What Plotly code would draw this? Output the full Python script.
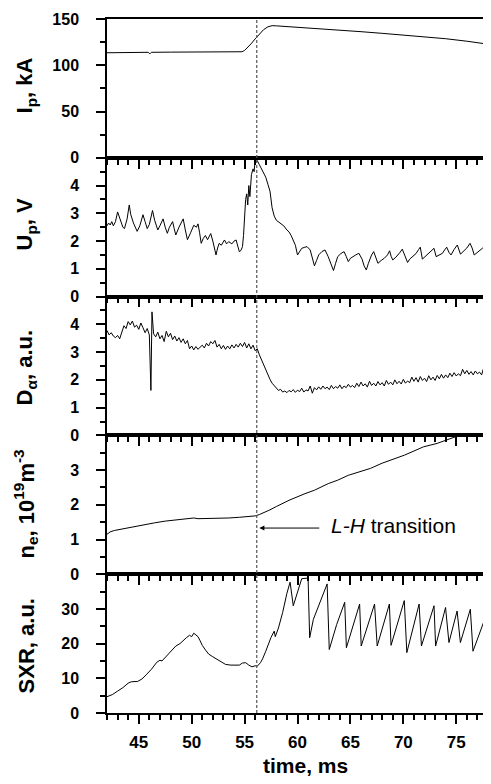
import plotly.graph_objects as go
from plotly.subplots import make_subplots

# ---------------- data ----------------
X_RANGE = [42, 78]
X_TICKS = [45, 50, 55, 60, 65, 70, 75]
LH_TIME = 56.15

IP = [(42.0, 113.5), (44.0, 113.8), (45.9, 114.0), (46.05, 112.3), (46.2, 114.0), (48.0, 114.2),
      (50.0, 114.3), (52.0, 114.4), (54.0, 114.5), (54.75, 114.6), (55.0, 116.0), (55.3, 119.0),
      (55.6, 123.0), (56.0, 128.5), (56.4, 134.0), (56.8, 138.5), (57.2, 141.5), (57.6, 142.8),
      (58.0, 142.6), (60.0, 141.2), (62.0, 139.6), (64.0, 138.0), (66.0, 136.3), (68.0, 134.5),
      (70.0, 132.6), (72.0, 130.8), (74.0, 128.7), (76.0, 126.0), (78.0, 122.8)]

UP = [(42.0, 2.55), (42.15, 2.65), (42.3, 2.58), (42.45, 2.7), (42.6, 2.55), (42.8, 2.7), (43.0, 3.05),
      (43.15, 2.9), (43.3, 2.7), (43.5, 2.5), (43.65, 2.45), (43.9, 2.8), (44.1, 3.3), (44.25, 2.95),
      (44.5, 2.65), (44.65, 2.5), (44.85, 2.35), (45.1, 2.55), (45.4, 2.95), (45.6, 2.7), (45.8, 2.45),
      (46.0, 2.6), (46.3, 3.1), (46.5, 2.75), (46.8, 2.4), (47.0, 2.55), (47.3, 2.8), (47.5, 2.5),
      (47.7, 2.28), (47.9, 2.5), (48.2, 2.7), (48.35, 2.45), (48.5, 2.22), (48.8, 2.5), (49.2, 2.8),
      (49.4, 2.4), (49.6, 2.05), (49.9, 2.3), (50.2, 2.57), (50.45, 2.5), (50.6, 2.62), (50.75, 2.3),
      (50.9, 1.92), (51.1, 2.1), (51.3, 2.2), (51.5, 2.05), (51.8, 2.27), (52.0, 2.0), (52.3, 1.5),
      (52.45, 1.75), (52.6, 1.92), (52.8, 1.85), (53.1, 2.04), (53.3, 1.9), (53.5, 1.98), (53.8, 1.9),
      (54.0, 2.0), (54.2, 2.04), (54.35, 1.8), (54.5, 1.62), (54.65, 1.66), (54.8, 1.8), (54.9, 2.2),
      (55.0, 2.9), (55.1, 3.5), (55.2, 3.7), (55.3, 3.3), (55.4, 4.0), (55.5, 3.6), (55.65, 4.4),
      (55.8, 4.6), (55.9, 4.5), (56.0, 4.95), (56.1, 4.85), (56.2, 4.9), (56.4, 4.75), (56.6, 4.6),
      (56.8, 4.45), (57.0, 4.3), (57.2, 4.05), (57.4, 3.8), (57.6, 3.2), (57.8, 2.9), (58.0, 2.75),
      (58.2, 2.69), (58.5, 2.6), (58.7, 2.55), (59.0, 2.4), (59.2, 2.33), (59.4, 2.2), (59.6, 2.04),
      (59.8, 1.85), (60.0, 1.5), (60.2, 1.65), (60.4, 1.74), (60.7, 1.78), (60.9, 1.8), (61.2, 1.68),
      (61.4, 1.4), (61.6, 1.11), (61.8, 1.3), (62.0, 1.5), (62.3, 1.62), (62.6, 1.68), (62.9, 1.44),
      (63.2, 1.15), (63.4, 0.94), (63.6, 1.2), (63.8, 1.44), (64.1, 1.55), (64.4, 1.62), (64.6, 1.45),
      (64.8, 1.26), (65.0, 1.38), (65.2, 1.44), (65.5, 1.5), (65.8, 1.56), (66.1, 1.35), (66.3, 1.1),
      (66.5, 0.96), (66.7, 1.2), (66.8, 1.32), (67.0, 1.5), (67.2, 1.62), (67.4, 1.4), (67.6, 1.2),
      (67.9, 1.3), (68.2, 1.38), (68.5, 1.5), (68.7, 1.65), (68.85, 1.45), (69.0, 1.32), (69.3, 1.42),
      (69.5, 1.5), (69.7, 1.6), (69.9, 1.71), (70.1, 1.5), (70.4, 1.23), (70.6, 1.35), (70.9, 1.44),
      (71.2, 1.55), (71.45, 1.7), (71.6, 1.78), (71.8, 1.35), (72.0, 1.42), (72.4, 1.56), (72.7, 1.65),
      (72.9, 1.74), (73.1, 1.44), (73.4, 1.5), (73.7, 1.56), (73.9, 1.68), (74.1, 1.78), (74.3, 1.6),
      (74.5, 1.5), (74.8, 1.7), (75.1, 1.86), (75.4, 1.53), (75.7, 1.65), (76.0, 1.75), (76.3, 1.92),
      (76.5, 1.75), (76.7, 1.5), (77.0, 1.6), (77.3, 1.68), (77.5, 1.75), (77.7, 1.78), (77.85, 1.65),
      (78.0, 1.7)]

DALPHA = [(42.0, 3.78), (42.2, 3.62), (42.4, 3.70), (42.6, 3.58), (42.8, 3.52), (43.0, 3.60),
          (43.2, 3.48), (43.4, 3.75), (43.6, 3.95), (43.8, 3.85), (44.0, 4.10), (44.2, 3.98),
          (44.4, 4.12), (44.6, 3.90), (44.8, 3.97), (45.0, 3.82), (45.2, 4.05), (45.4, 3.88),
          (45.6, 3.70), (45.8, 3.85), (46.0, 3.62), (46.15, 1.62), (46.25, 4.45), (46.4, 3.66),
          (46.6, 3.55), (46.8, 3.72), (47.0, 3.48), (47.2, 3.60), (47.4, 3.38), (47.6, 3.75),
          (47.8, 3.55), (48.0, 3.68), (48.2, 3.45), (48.4, 3.58), (48.6, 3.40), (48.8, 3.52),
          (49.0, 3.35), (49.2, 3.48), (49.4, 3.30), (49.6, 3.42), (49.8, 3.12), (50.0, 3.22),
          (50.2, 3.08), (50.4, 3.20), (50.6, 3.10), (50.8, 3.18), (51.0, 3.25), (51.2, 3.15),
          (51.4, 3.32), (51.6, 3.22), (51.8, 3.38), (52.0, 3.30), (52.2, 3.42), (52.4, 3.18),
          (52.6, 3.28), (52.8, 3.12), (53.0, 3.24), (53.2, 3.10), (53.4, 3.22), (53.6, 3.12),
          (53.8, 3.26), (54.0, 3.15), (54.2, 3.28), (54.4, 3.18), (54.6, 3.32), (54.8, 3.20),
          (55.0, 3.35), (55.2, 3.15), (55.4, 3.30), (55.6, 3.12), (55.8, 3.25), (56.0, 3.05),
          (56.2, 3.12), (56.4, 2.90), (56.6, 2.72), (56.8, 2.50), (57.0, 2.35), (57.2, 2.15),
          (57.4, 2.02), (57.6, 1.88), (57.8, 1.78), (58.0, 1.70), (58.2, 1.62), (58.4, 1.66),
          (58.6, 1.56), (58.8, 1.60), (59.0, 1.54), (59.2, 1.62), (59.4, 1.57), (59.6, 1.65),
          (59.8, 1.55), (60.0, 1.63), (60.2, 1.58), (60.4, 1.70), (60.6, 1.56), (60.8, 1.64),
          (61.0, 1.60), (61.2, 1.78), (61.4, 1.52), (61.6, 1.72), (61.8, 1.64), (62.0, 1.75),
          (62.2, 1.66), (62.4, 1.78), (62.6, 1.68), (62.8, 1.74), (63.0, 1.65), (63.2, 1.80),
          (63.4, 1.68), (63.6, 1.76), (63.8, 1.70), (64.0, 1.82), (64.2, 1.68), (64.4, 1.78),
          (64.6, 1.72), (64.8, 1.84), (65.0, 1.74), (65.2, 1.80), (65.4, 1.72), (65.6, 1.88),
          (65.8, 1.76), (66.0, 1.92), (66.2, 1.78), (66.4, 1.86), (66.6, 1.74), (66.8, 1.95),
          (67.0, 1.80), (67.2, 1.88), (67.4, 1.78), (67.6, 1.94), (67.8, 1.82), (68.0, 1.90),
          (68.2, 1.78), (68.4, 1.98), (68.6, 1.84), (68.8, 1.92), (69.0, 1.82), (69.2, 2.00),
          (69.4, 1.86), (69.6, 1.95), (69.8, 1.85), (70.0, 2.02), (70.2, 1.88), (70.4, 1.96),
          (70.6, 1.90), (70.8, 2.10), (71.0, 1.95), (71.2, 2.08), (71.4, 1.92), (71.6, 2.12),
          (71.8, 1.98), (72.0, 2.06), (72.2, 1.94), (72.4, 2.15), (72.6, 2.00), (72.8, 2.10),
          (73.0, 1.98), (73.2, 2.16), (73.4, 2.04), (73.6, 2.20), (73.8, 2.06), (74.0, 2.18),
          (74.2, 2.08), (74.4, 2.24), (74.6, 2.12), (74.8, 2.26), (75.0, 2.14), (75.2, 2.22),
          (75.4, 2.15), (75.6, 2.38), (75.8, 2.22), (76.0, 2.34), (76.2, 2.20), (76.4, 2.30),
          (76.6, 2.18), (76.8, 2.32), (77.0, 2.22), (77.2, 2.28), (77.4, 2.18), (77.6, 2.45),
          (77.8, 2.25), (78.0, 2.30)]

NE = [(42.0, 1.15), (42.3, 1.22), (42.7, 1.26), (43.5, 1.31), (44.5, 1.37), (45.5, 1.43), (46.5, 1.48),
      (47.5, 1.53), (48.5, 1.56), (49.5, 1.60), (50.2, 1.62), (50.6, 1.60), (51.5, 1.60), (52.5, 1.60),
      (53.5, 1.62), (54.5, 1.64), (55.5, 1.66), (56.0, 1.68), (56.4, 1.72), (56.8, 1.77), (57.3, 1.84),
      (58.0, 1.95), (59.2, 2.13), (60.7, 2.32), (61.6, 2.42), (62.9, 2.61), (63.8, 2.71), (64.8, 2.85),
      (66.0, 2.96), (66.9, 3.05), (68.0, 3.20), (69.0, 3.30), (70.1, 3.43), (71.0, 3.55), (71.9, 3.67),
      (73.2, 3.77), (74.0, 3.86), (74.9, 3.96), (75.5, 4.03), (76.5, 4.14), (78.0, 4.30)]

SXR = [(42.0, 4.7), (42.5, 5.3), (43.0, 6.3), (43.5, 7.3), (44.0, 8.6), (44.3, 9.0), (44.9, 9.1),
       (45.3, 9.8), (45.7, 11.0), (46.2, 12.6), (46.7, 14.6), (47.0, 15.2), (47.2, 15.0), (47.5, 16.0),
       (47.9, 17.6), (48.2, 18.5), (48.5, 19.3), (48.9, 20.0), (49.2, 21.0), (49.5, 21.7), (49.8, 22.4),
       (50.0, 22.0), (50.2, 23.0), (50.4, 22.5), (50.6, 22.0), (50.8, 20.8), (51.0, 19.5), (51.3, 18.2),
       (51.6, 17.0), (52.0, 16.2), (52.3, 15.6), (52.7, 14.8), (53.2, 14.0), (53.7, 13.8), (54.2, 13.7),
       (54.5, 13.8), (54.8, 14.4), (55.1, 14.5), (55.4, 13.8), (55.7, 13.3), (56.0, 13.6), (56.2, 13.5),
       (56.5, 14.5), (56.7, 15.6), (57.0, 17.8), (57.3, 20.3), (57.5, 21.8), (57.8, 23.6), (57.9, 22.0),
       (58.2, 24.5), (58.6, 29.0), (59.0, 34.5), (59.3, 37.7), (59.6, 30.9), (60.0, 34.5), (60.4, 38.7),
       (61.0, 38.9), (61.15, 21.7), (61.5, 27.0), (62.0, 31.0), (62.5, 35.0), (62.8, 37.2), (63.0, 18.3),
       (63.7, 25.5), (64.46, 31.9), (64.62, 18.8), (65.87, 31.4), (66.02, 19.3), (67.28, 31.4),
       (67.53, 19.3), (68.68, 31.4), (68.84, 19.5), (70.09, 32.4), (70.33, 17.4), (71.49, 31.4),
       (71.71, 19.3), (72.9, 30.9), (73.05, 19.3), (73.99, 30.4), (74.31, 20.3), (75.08, 29.4),
       (75.39, 20.3), (76.33, 29.9), (76.58, 17.8), (77.58, 26.1), (77.83, 19.3), (78.0, 21.5)]

PANELS = [
    dict(data=IP, rng=[0, 150], ticks=[0, 50, 100, 150], minor=25, title="I<sub>p</sub>, kA"),
    dict(data=UP, rng=[0, 5], ticks=[0, 1, 2, 3, 4], minor=0.5, title="U<sub>p</sub>, V"),
    dict(data=DALPHA, rng=[0, 5], ticks=[0, 1, 2, 3, 4], minor=0.5, title="D<sub>α</sub>, a.u."),
    dict(data=NE, rng=[0, 4], ticks=[0, 1, 2, 3], minor=0.5, title="n<sub>e</sub>, 10<sup>19</sup>m<sup>-3</sup>"),
    dict(data=SXR, rng=[0, 40], ticks=[0, 10, 20, 30], minor=5, title="SXR, a.u."),
]

# ---------------- figure ----------------
# The page body has an 8 px default margin, so the figure is 8 px smaller
# and everything is placed relative to the screenshot minus that offset.
OFF = 8
W, H = 491 - OFF, 784 - OFF
ML, MR, MT, MB = 107 - OFF, 1, 19 - OFF, 71
PW, PH = W - ML - MR, H - MT - MB
FONT = "Liberation Sans, Arial, Helvetica, sans-serif"


def px_x(px):
    return (px - OFF - ML) / PW


def px_y(py):
    return (H - MB - (py - OFF)) / PH


fig = make_subplots(rows=5, cols=1, shared_xaxes=True, vertical_spacing=0)

for i, p in enumerate(PANELS, start=1):
    xs = [a for a, b in p["data"]]
    ys = [b for a, b in p["data"]]
    fig.add_trace(go.Scatter(x=xs, y=ys, mode="lines",
                             line=dict(color="black", width=1), showlegend=False),
                  row=i, col=1)
    fig.update_yaxes(row=i, col=1, range=p["rng"], tickvals=p["ticks"],
                     ticks="outside", ticklen=9, tickwidth=1.5, tickcolor="black",
                     minor=dict(dtick=p["minor"], ticks="outside", ticklen=5, tickwidth=1.5,
                                tickcolor="black", showgrid=False),
                     showline=True, linewidth=1.5, linecolor="black", mirror=True,
                     showgrid=False, zeroline=False, ticklabelstandoff=14,
                     tickfont=dict(family=FONT, size=16, color="black", weight="bold"))
    fig.update_xaxes(row=i, col=1, range=X_RANGE, tickvals=X_TICKS,
                     ticks="outside", ticklen=9, tickwidth=1.5, tickcolor="black",
                     minor=dict(dtick=1, ticks="outside", ticklen=5, tickwidth=1.5,
                                tickcolor="black", showgrid=False),
                     showline=True, linewidth=1.5, linecolor="black", mirror=True,
                     showgrid=False, zeroline=False, ticklabelstandoff=4,
                     tickfont=dict(family=FONT, size=17, color="black", weight="bold"))

# y-axis titles as rotated annotations
centers = [85, 224, 368, 504, 646]
for p, cy in zip(PANELS, centers):
    fig.add_annotation(text=p["title"], xref="paper", yref="paper",
                       x=px_x(26), y=px_y(cy),
                       xanchor="center", yanchor="middle", textangle=-90, showarrow=False,
                       font=dict(family=FONT, size=22, color="black", weight="bold"))

# x-axis title
fig.add_annotation(text="time, ms", xref="paper", yref="paper",
                   x=px_x(307), y=px_y(766),
                   xanchor="center", yanchor="middle", showarrow=False,
                   font=dict(family=FONT, size=21, color="black", weight="bold"))

# L-H transition dashed marker
fig.add_shape(type="line", xref="x", yref="paper", x0=LH_TIME, x1=LH_TIME, y0=0, y1=1,
              line=dict(color="#555555", width=1.2, dash="3px,2px"))

fig.add_annotation(x=LH_TIME + 0.25, y=1.33, xref="x4", yref="y4",
                   ax=62.2, ay=1.33, axref="x4", ayref="y4", text="",
                   showarrow=True, arrowhead=2, arrowsize=1, arrowwidth=1, arrowcolor="black")
fig.add_annotation(x=63.0, y=1.41, xref="x4", yref="y4", text="<i>L-H</i> transition",
                   xanchor="left", yanchor="middle", showarrow=False,
                   font=dict(family=FONT, size=21, color="black"))

fig.update_layout(width=W, height=H, margin=dict(l=ML, r=MR, t=MT, b=MB),
                  paper_bgcolor="white", plot_bgcolor="white")

fig.write_html("out.html")
